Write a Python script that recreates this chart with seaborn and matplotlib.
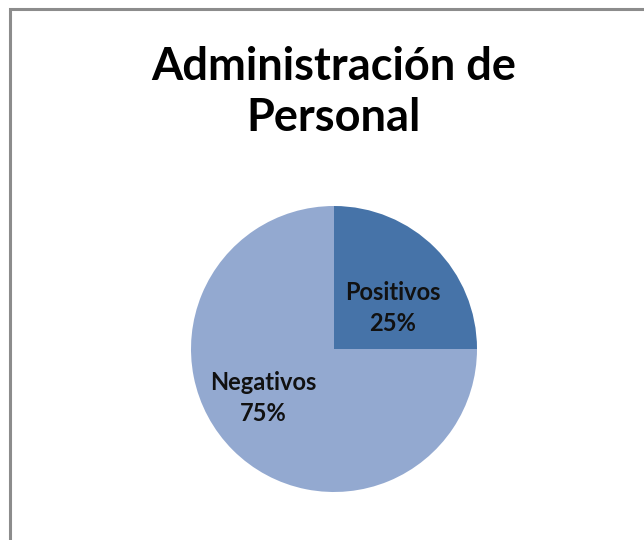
import matplotlib
matplotlib.use("Agg")
import matplotlib.pyplot as plt
import matplotlib.patches as patches
import numpy as np
import seaborn as sns

# Data
categories = ["Positivos", "Negativos"]
values = [25, 75]
colors = ["#4673A8", "#93A9D0"]
title = "Administración de\nPersonal"

sns.set_theme(style="white")
plt.rcParams['font.family'] = ['Lato', 'DejaVu Sans']

fig = plt.figure(figsize=(6.44, 5.4), dpi=100)
fig.patch.set_facecolor("white")

# pie axes: centre at (334, 349) px, radius ~143 px
r_px = 143
cx, cy = 334, 349
ax = fig.add_axes([(cx - r_px) / 644, (540 - cy - r_px) / 540, 2 * r_px / 644, 2 * r_px / 540])

total = sum(values)
wedges, texts, autotexts = ax.pie(
    values, colors=colors, startangle=90, counterclock=False,
    autopct=lambda p: "", pctdistance=0.58,
    wedgeprops=dict(linewidth=0),
)
ax.set_xlim(-1, 1)
ax.set_ylim(-1, 1)
ax.set_aspect("equal")

# label placement (Excel puts them a bit off the mid-angle)
angle_shift = [-10, -10]
label_dist = [0.5, 0.6]
for w, cat, val, t, da, d in zip(wedges, categories, values, autotexts, angle_shift, label_dist):
    mid = np.deg2rad((w.theta1 + w.theta2) / 2 + da)
    t.set_position((d * np.cos(mid), d * np.sin(mid)))
    t.set_text(f"{cat}\n{round(val / total * 100)}%")
    t.set_fontsize(17)
    t.set_fontweight("bold")
    t.set_color("#111111")
    t.set_linespacing(1.4)
    t.set_ha("center")
    t.set_va("center")

fig.text(0.518, 0.829, title, ha="center", va="center", fontsize=32.5,
         fontweight="bold", color="black", linespacing=1.28)

# chart area frame, cut off at right and bottom
frame = patches.Rectangle((10 / 644, -0.1), 1.2, (540 - 8.5) / 540 + 0.1,
                          transform=fig.transFigure, fill=False,
                          edgecolor="#8c8c8c", linewidth=2.2, clip_on=False)
fig.patches.append(frame)

fig.savefig("out.png", dpi=100, facecolor="white")
